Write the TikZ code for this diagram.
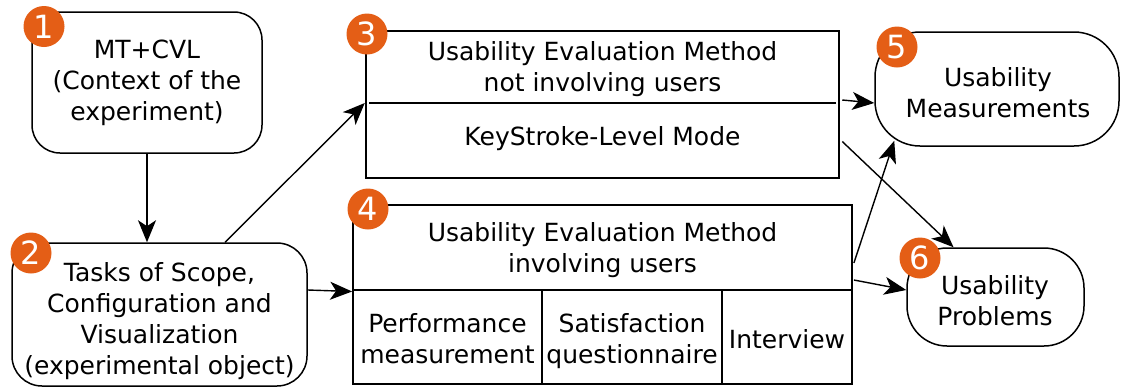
\documentclass[tikz,border=0pt]{standalone}
\usepackage{fontspec}
\setmainfont{DejaVu Sans}
\usetikzlibrary{arrows.meta,calc}
\definecolor{badgeorange}{RGB}{228,94,22}
\begin{document}
\begin{tikzpicture}[x=1pt,y=-1pt,
  txt/.style={inner sep=0pt,align=center,font=\fontsize{25}{31}\selectfont},
  rbox/.style={draw,line width=1.5pt,inner sep=0pt},
  sbox/.style={draw,inner sep=0pt},
  badge/.style={circle,fill=badgeorange,text=white,minimum size=41pt,inner sep=0pt,font=\fontsize{32}{32}\selectfont},
  conn/.style={line width=1.4pt,-{Stealth[length=22pt,width=18pt,inset=6pt]}}
]
\useasboundingbox (0,0) rectangle (1121,389);
% boxes
\node[rbox,rounded corners=28pt,minimum width=230pt,minimum height=141pt] (b1) at (147,82.5) {};
\node[rbox,rounded corners=30pt,minimum width=295pt,minimum height=143pt] (b2) at (159.5,314.5) {};
\node[sbox,line width=2.5pt,minimum width=473pt,minimum height=147pt] (b3) at (602.5,104.5) {};
\node[sbox,line width=1.8pt,minimum width=499pt,minimum height=179pt] (b4) at (602.5,294.5) {};
\node[rbox,rounded corners=45pt,minimum width=244pt,minimum height=114pt] (b5) at (997,89) {};
\node[rbox,rounded corners=40pt,minimum width=177pt,minimum height=98pt] (b6) at (995.5,297) {};
% dividers
\coordinate (d3l) at (369,103);
\coordinate (d3r) at (836,103);
\draw[line width=1.2pt] (d3l) -- (d3r);
\coordinate (d4l) at (353,290);
\coordinate (d4r) at (852,290);
\draw[line width=1.5pt] (d4l) -- (d4r);
\coordinate (v1t) at (542,290);
\coordinate (v2t) at (722,290);
\draw[line width=1.5pt] (v1t) -- (v1t |- b4.south);
\draw[line width=1.5pt] (v2t) -- (v2t |- b4.south);
% texts
\node[txt] (t1) at (147,83) {MT+CVL\\(Context of the\\experiment)};
\node[txt] (t2) at (159.5,321) {Tasks of Scope,\\Configuration and\\Visualization\\(experimental object)};
\node[txt] (t3a) at (602.5,69) {Usability Evaluation Method\\not involving users};
\node[txt] (t3b) at (602.5,138.8) {KeyStroke-Level Mode};
\node[txt] (t4a) at (602.5,250.5) {Usability Evaluation Method\\involving users};
\node[txt] (t4b) at (447.5,338.9) {Performance\\measurement};
\node[txt] (t4c) at (632,341.5) {Satisfaction\\questionnaire};
\node[txt] (t4d) at (787,339.5) {Interview};
\node[txt] (t5) at (998,93) {Usability\\Measurements};
\node[txt] (t6) at (995,300.5) {Usability\\Problems};
% badges
\node[badge] (n1) at (44,26.5) {1};
\node[badge] (n2) at (31,253) {2};
\node[badge] (n3) at (367,34) {3};
\node[badge] (n4) at (368,209) {4};
\node[badge] (n5) at (897,47) {5};
\node[badge] (n6) at (920,258) {6};
% connectors
\draw[conn] (b1.south) -- (b1.south |- b2.north);
\draw[conn] ([xshift=65.5pt]b2.north) -- ([yshift=1.5pt]b3.west);
\draw[conn] ([yshift=24.5pt]b2.east) -- ([yshift=3pt]b4.west);
\draw[conn] ([shift={(2pt,4.5pt)}]b3.east) -- ([yshift=-14pt]b5.west);
\draw[conn] ([shift={(2pt,-37pt)}]b3.east) -- ([xshift=-42pt]b6.north);
\draw[conn] ([shift={(1pt,31.5pt)}]b4.east) -- ([shift={(20pt,6pt)}]b5.south west);
\draw[conn] ([shift={(1pt,14.5pt)}]b4.east) -- ([yshift=7pt]b6.west);
\end{tikzpicture}
\end{document}
